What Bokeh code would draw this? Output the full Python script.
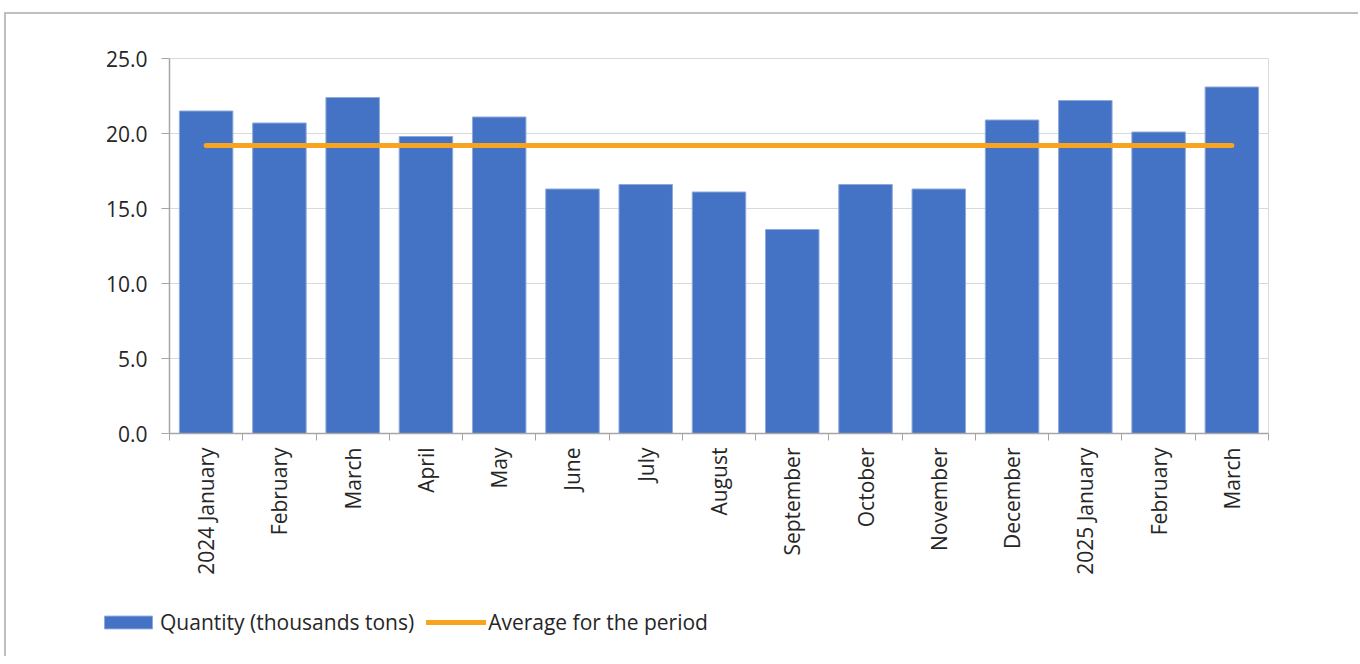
import math
from bokeh.plotting import figure
from bokeh.models import (Range1d, FixedTicker, NumeralTickFormatter, Legend,
                          LegendItem, ColumnDataSource)
from bokeh.embed import file_html
from bokeh.resources import INLINE

months = ["2024 January", "February", "March", "April", "May", "June", "July",
          "August", "September", "October", "November", "December",
          "2025 January", "February", "March"]
quantity = [21.5, 20.7, 22.4, 19.8, 21.1, 16.3, 16.6, 16.1, 13.6, 16.6, 16.3,
            20.9, 22.2, 20.1, 23.1]
average = [19.2, 19.2, 19.2, 19.2, 19.2, 19.2, 19.2, 19.2, 19.2, 19.2, 19.2,
           19.2, 19.2, 19.2, 19.2]
y_ticks = [0, 5, 10, 15, 20, 25]
series_names = ["Quantity (thousands tons)", "Average for the period"]

FONT = "Open Sans"
TXT = "#262626"
AX = "#A6A6A6"
BAR = "#4472C4"
BAR_EDGE = "#8EA9DB"
AVG = "#F7A520"
FRAME = "2px solid #BFBFBF"

idx = list(range(len(months)))
src = ColumnDataSource(dict(x=idx, q=quantity, avg=average))

p = figure(frame_width=1099, frame_height=375,
           x_range=Range1d(-0.5, len(months) - 0.5), y_range=Range1d(0, 25),
           output_backend="svg", toolbar_location=None,
           min_border_left=163, min_border_right=90, min_border_top=44,
           min_border_bottom=150,
           styles={"border-left": FRAME, "border-top": FRAME,
                   "margin-left": "4px", "margin-top": "12px"})

p.vbar(x="x", top="q", width=0.73, source=src, fill_color=BAR,
       line_color=BAR_EDGE, line_width=1)
p.line(x="x", y="avg", source=src, line_color=AVG, line_width=5,
       line_cap="round")

# x axis: labels at centres, ticks at category boundaries
xa = p.xaxis[0]
xa.ticker = FixedTicker(ticks=idx, minor_ticks=[i - 0.5 for i in range(len(months) + 1)])
xa.major_label_overrides = {i: m for i, m in enumerate(months)}
xa.major_tick_out = 0
xa.major_tick_in = 0
xa.minor_tick_out = 7
xa.minor_tick_in = 0
xa.minor_tick_line_color = AX
xa.axis_line_color = AX
xa.axis_line_width = 1.5
xa.major_label_orientation = math.pi / 2
xa.major_label_standoff = 7
xa.major_label_text_font = FONT
xa.major_label_text_font_size = "21px"
xa.major_label_text_color = TXT

ya = p.yaxis[0]
ya.ticker = FixedTicker(ticks=y_ticks, minor_ticks=[])
ya.formatter = NumeralTickFormatter(format="0.0")
ya.major_tick_out = 8
ya.major_tick_in = 0
ya.major_tick_line_color = AX
ya.axis_line_color = AX
ya.axis_line_width = 1.5
ya.major_label_standoff = 14
ya.major_label_text_font = FONT
ya.major_label_text_font_size = "21px"
ya.major_label_text_color = TXT

p.xgrid.grid_line_color = None
p.ygrid.grid_line_color = "#D9D9D9"
p.ygrid.grid_line_width = 1
p.outline_line_color = "#D9D9D9"

# legend strip below the chart (same series, drawn out of its visible range)
lg = figure(width=1352, height=73, min_border=0, output_backend="svg",
            toolbar_location=None, x_axis_location=None, y_axis_location=None,
            x_range=Range1d(-0.5, len(months) - 0.5), y_range=Range1d(30, 31),
            styles={"border-left": FRAME, "margin-left": "4px"})
lg.grid.visible = False
lg.outline_line_color = None
lb = lg.vbar(x="x", top="q", width=0.73, source=src, fill_color=BAR,
             line_color=BAR_EDGE, line_width=1)
ll = lg.line(x="x", y="avg", source=src, line_color=AVG, line_width=5,
             line_cap="round")
legend = Legend(items=[LegendItem(label=series_names[0], renderers=[lb]),
                       LegendItem(label=series_names[1], renderers=[ll])],
                orientation="horizontal", location=(92, 20),
                padding=0, margin=0, spacing=12, label_standoff=2,
                glyph_width=60, glyph_height=16,
                border_line_color=None, background_fill_alpha=0,
                label_text_font=FONT, label_text_font_size="21px",
                label_text_color=TXT)
lg.add_layout(legend)

open("out.html", "w").write(file_html([p, lg], INLINE))
